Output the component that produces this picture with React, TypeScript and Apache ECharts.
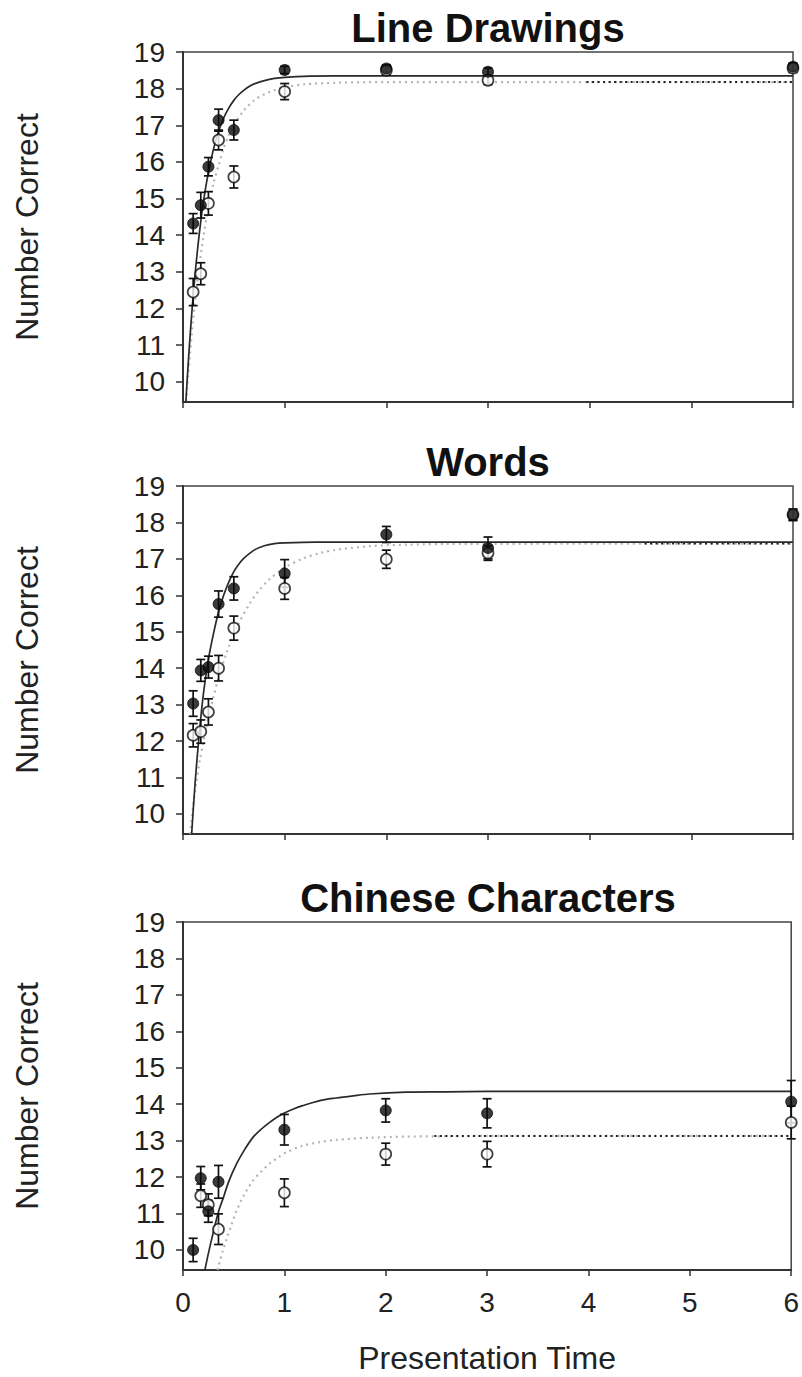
import React, { useEffect, useRef } from "react";
import * as echarts from "echarts";

// ---------- data ----------
const panelTitles = ["Line Drawings", "Words", "Chinese Characters"];
const xTickLabels = ["0", "1", "2", "3", "4", "5", "6"];
const yTickValues = [10, 11, 12, 13, 14, 15, 16, 17, 18, 19];

const times = [0.1, 0.175, 0.25, 0.35, 0.5, 1, 2, 3, 6];
const timesChinese = [0.1, 0.175, 0.25, 0.35, 1, 2, 3, 6];

// Line Drawings
const ldFilled = [14.32, 14.82, 15.87, 17.14, 16.87, 18.51, 18.55, 18.46, 18.6];
const ldFilledErr = [0.27, 0.35, 0.25, 0.3, 0.27, 0.1, 0.1, 0.1, 0.1];
const ldOpen = [12.45, 12.95, 14.87, 16.6, 15.59, 17.92, 18.5, 18.23, 18.56];
const ldOpenErr = [0.37, 0.3, 0.32, 0.27, 0.3, 0.22, 0.12, 0.12, 0.12];
const ldSolid = [[0.028, 9.45], [0.05, 10.45], [0.075, 11.46], [0.1, 12.35], [0.125, 13.12], [0.15, 13.79], [0.175, 14.38], [0.2, 14.9], [0.25, 15.72], [0.3, 16.35], [0.35, 16.83], [0.4, 17.2], [0.45, 17.47], [0.5, 17.68], [0.55, 17.84], [0.6, 17.96], [0.65, 18.06], [0.7, 18.13], [0.8, 18.22], [0.9, 18.28], [1.0, 18.31], [1.25, 18.34], [1.5, 18.35], [6, 18.35]];
const ldDotted = [[0.03, 9.47], [0.05, 10.18], [0.1, 11.71], [0.15, 12.95], [0.2, 13.95], [0.25, 14.76], [0.3, 15.42], [0.35, 15.9], [0.4, 16.38], [0.45, 16.72], [0.5, 17.0], [0.6, 17.41], [0.7, 17.68], [0.8, 17.85], [0.9, 17.96], [1.0, 18.04], [1.2, 18.12], [1.5, 18.16], [2, 18.18], [6, 18.18]];
const ldDottedDark = [[3.97, 18.18], [6, 18.18]];

// Words
const wFilled = [13.03, 13.94, 14.03, 15.76, 16.19, 16.6, 17.67, 17.3, 18.2];
const wFilledErr = [0.35, 0.3, 0.3, 0.36, 0.32, 0.38, 0.22, 0.3, 0.15];
const wOpen = [12.16, 12.26, 12.8, 14.0, 15.1, 16.19, 16.99, 17.16, 18.22];
const wOpenErr = [0.32, 0.32, 0.36, 0.35, 0.33, 0.3, 0.25, 0.2, 0.15];
const wSolid = [[0.085, 9.45], [0.12, 10.89], [0.16, 12.2], [0.2, 13.28], [0.25, 14.25], [0.3, 14.95], [0.35, 15.55], [0.4, 16.0], [0.45, 16.36], [0.5, 16.65], [0.55, 16.86], [0.6, 17.02], [0.7, 17.24], [0.8, 17.36], [0.9, 17.42], [1.0, 17.44], [1.3, 17.46], [6, 17.46]];
const wDotted = [[0.07, 9.45], [0.1, 10.2], [0.13, 10.85], [0.167, 11.5], [0.2, 11.96], [0.25, 12.63], [0.3, 13.22], [0.35, 13.74], [0.43, 14.44], [0.53, 15.13], [0.66, 15.79], [0.75, 16.14], [0.855, 16.45], [1.0, 16.76], [1.18, 17.01], [1.35, 17.16], [1.51, 17.25], [1.84, 17.35], [2.2, 17.39], [2.6, 17.41], [6, 17.42]];
const wDottedDark = [[4.54, 17.42], [6, 17.42]];

// Chinese Characters
const cFilled = [10.0, 11.97, 11.06, 11.87, 13.3, 13.83, 13.75, 14.07];
const cFilledErr = [0.32, 0.32, 0.3, 0.45, 0.42, 0.32, 0.4, 0.58];
const cOpen = [null, 11.49, 11.24, 10.57, 11.57, 12.63, 12.63, 13.5];
const cOpenErr = [0, 0.32, 0.3, 0.42, 0.38, 0.3, 0.35, 0.45];
const cSolid = [[0.216, 9.45], [0.25, 9.9], [0.3, 10.5], [0.35, 11.05], [0.4, 11.45], [0.45, 11.87], [0.528, 12.36], [0.6, 12.72], [0.69, 13.09], [0.77, 13.31], [0.855, 13.5], [0.93, 13.65], [1.0, 13.76], [1.09, 13.87], [1.18, 13.96], [1.35, 14.1], [1.51, 14.17], [1.68, 14.23], [1.84, 14.28], [2.2, 14.33], [2.6, 14.34], [3, 14.35], [6, 14.35]];
const cDotted = [[0.34, 9.45], [0.39, 9.95], [0.43, 10.3], [0.48, 10.7], [0.528, 11.07], [0.6, 11.5], [0.69, 11.9], [0.77, 12.15], [0.855, 12.37], [0.94, 12.54], [1.02, 12.68], [1.18, 12.86], [1.35, 12.96], [1.51, 13.02], [1.84, 13.08], [2.2, 13.11], [2.6, 13.12], [3, 13.13], [6, 13.13]];
const cDottedDark = [[2.48, 13.13], [6, 13.13]];

const panels = [
  { x: times, filled: ldFilled, filledErr: ldFilledErr, open: ldOpen, openErr: ldOpenErr, solid: ldSolid, dotted: ldDotted, dottedDark: ldDottedDark },
  { x: times, filled: wFilled, filledErr: wFilledErr, open: wOpen, openErr: wOpenErr, solid: wSolid, dotted: wDotted, dottedDark: wDottedDark },
  { x: timesChinese, filled: cFilled, filledErr: cFilledErr, open: cOpen, openErr: cOpenErr, solid: cSolid, dotted: cDotted, dottedDark: cDottedDark },
];

// ---------- layout ----------
const FONT = 'Arial, "Liberation Sans", Helvetica, sans-serif';
const gridTops = [52, 486, 922];
const gridHeights = [350, 348, 348];
const GRID_LEFT = 183;
const GRID_RIGHT = 9;

function errorBarSeries(gridIdx: number, data: number[][], name: string) {
  return {
    type: "custom",
    name,
    xAxisIndex: gridIdx,
    yAxisIndex: gridIdx,
    z: 3,
    clip: false,
    data,
    encode: { x: 0, y: 1 },
    renderItem: (_params: any, api: any) => {
      const x = api.value(0);
      const y = api.value(1);
      const e = api.value(2);
      if (!e) return null;
      const top = api.coord([x, y + e]);
      const bot = api.coord([x, y - e]);
      const hw = 4.5;
      const st = { stroke: "#111", lineWidth: 1.7 };
      return {
        type: "group",
        children: [
          { type: "line", shape: { x1: top[0], y1: top[1], x2: bot[0], y2: bot[1] }, style: st },
          { type: "line", shape: { x1: top[0] - hw, y1: top[1], x2: top[0] + hw, y2: top[1] }, style: st },
          { type: "line", shape: { x1: bot[0] - hw, y1: bot[1], x2: bot[0] + hw, y2: bot[1] }, style: st },
        ],
      };
    },
  };
}

function buildOption() {
  const grid: any[] = [];
  const xAxis: any[] = [];
  const yAxis: any[] = [];
  const series: any[] = [];
  const graphic: any[] = [];

  panels.forEach((p, i) => {
    grid.push({
      left: GRID_LEFT,
      right: GRID_RIGHT,
      top: gridTops[i],
      height: gridHeights[i],
      show: true,
      borderColor: "#444",
      borderWidth: 1.5,
      backgroundColor: "transparent",
    });
    const isBottom = i === panels.length - 1;
    xAxis.push({
      type: "value",
      gridIndex: i,
      min: 0,
      max: 6,
      interval: 1,
      splitLine: { show: false },
      axisLine: { show: true, onZero: false, lineStyle: { color: "#333", width: 2 } },
      axisTick: { show: true, inside: false, length: 6, lineStyle: { color: "#333", width: 1.5 } },
      axisLabel: {
        show: isBottom,
        fontSize: 28,
        color: "#222",
        fontFamily: FONT,
        margin: 18,
        formatter: (v: number) => xTickLabels[Math.round(v)] ?? "",
      },
      name: isBottom ? "Presentation Time" : "",
      nameLocation: "middle",
      nameGap: 72,
      nameTextStyle: { fontSize: 32, color: "#222", fontFamily: FONT },
    });
    yAxis.push({
      type: "value",
      gridIndex: i,
      min: 9.45,
      max: 19,
      splitLine: { show: false },
      axisLine: { show: true, onZero: false, lineStyle: { color: "#333", width: 2 } },
      axisTick: { show: true, inside: false, length: 7, customValues: yTickValues, lineStyle: { color: "#333", width: 1.5 } },
      axisLabel: {
        show: true,
        fontSize: 28,
        color: "#222",
        fontFamily: FONT,
        margin: 18,
        customValues: yTickValues,
      },
      name: "Number Correct",
      nameLocation: "middle",
      nameGap: 140,
      nameTextStyle: { fontSize: 32, color: "#222", fontFamily: FONT },
    });

    graphic.push({
      type: "text",
      x: GRID_LEFT + (802 - GRID_LEFT - GRID_RIGHT) / 2,
      y: gridTops[i] - 24,
      style: {
        text: panelTitles[i],
        fontSize: 40,
        fontWeight: "bold",
        fontFamily: FONT,
        fill: "#111",
        align: "center",
        verticalAlign: "middle",
        textAlign: "center",
        textVerticalAlign: "middle",
      },
    });

    // fitted curves
    series.push({
      type: "line",
      xAxisIndex: i,
      yAxisIndex: i,
      data: p.dotted,
      showSymbol: false,
      smooth: 0.3,
      clip: true,
      z: 1,
      lineStyle: { color: "#b5b5b5", width: 2.2, type: [2, 4] },
    });
    series.push({
      type: "line",
      xAxisIndex: i,
      yAxisIndex: i,
      data: p.dottedDark,
      showSymbol: false,
      clip: true,
      z: 1,
      lineStyle: { color: "#222", width: 2, type: [2, 3.5] },
    });
    series.push({
      type: "line",
      xAxisIndex: i,
      yAxisIndex: i,
      data: p.solid,
      showSymbol: false,
      smooth: 0.3,
      clip: true,
      z: 2,
      lineStyle: { color: "#2a2a2a", width: 1.7 },
    });

    const openData = p.x.map((x, k) => [x, p.open[k], p.openErr[k]]).filter((d) => d[1] != null);
    const filledData = p.x.map((x, k) => [x, p.filled[k], p.filledErr[k]]);

    series.push(errorBarSeries(i, openData as number[][], "openErr"));
    series.push({
      type: "scatter",
      xAxisIndex: i,
      yAxisIndex: i,
      data: openData.map((d) => [d[0], d[1]]),
      symbol: "circle",
      symbolSize: 11,
      z: 4,
      itemStyle: { color: "#ffffff", borderColor: "#111", borderWidth: 1.7 },
    });
    series.push(errorBarSeries(i, filledData, "filledErr"));
    series.push({
      type: "scatter",
      xAxisIndex: i,
      yAxisIndex: i,
      data: filledData.map((d) => [d[0], d[1]]),
      symbol: "circle",
      symbolSize: 11,
      z: 5,
      itemStyle: { color: "#0a0a0a", borderColor: "#0a0a0a", borderWidth: 1 },
    });
  });

  return {
    animation: false,
    backgroundColor: "#ffffff",
    grid,
    xAxis,
    yAxis,
    series,
    graphic,
  };
}

export default function App() {
  const ref = useRef<HTMLDivElement>(null);
  useEffect(() => {
    document.body.style.margin = "0";
    if (!ref.current) return;
    const chart = echarts.init(ref.current, undefined, { renderer: "svg" });
    chart.setOption(buildOption() as any);
    return () => {
      chart.dispose();
    };
  }, []);
  return <div ref={ref} style={{ width: 802, height: 1377 }} />;
}
